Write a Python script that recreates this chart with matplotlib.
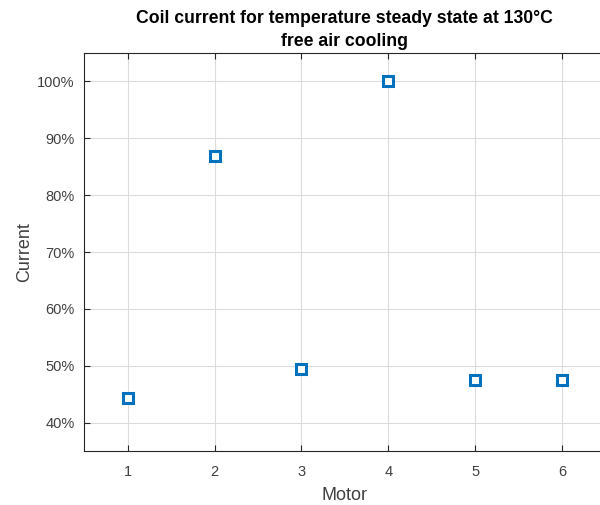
import matplotlib
matplotlib.use('Agg')
import matplotlib.pyplot as plt
from matplotlib.ticker import FuncFormatter

motors = [1, 2, 3, 4, 5, 6]
current = [44.4, 86.8, 49.5, 100.0, 47.4, 47.4]
yticks = [40, 50, 60, 70, 80, 90, 100]

plt.rcParams['font.family'] = ['Liberation Sans', 'DejaVu Sans']

fig = plt.figure(figsize=(6.0, 5.05), dpi=100)
ax = fig.add_axes([84.3 / 600, 54 / 505, 521.2 / 600, 398 / 505])

ax.plot(motors, current, linestyle='none', marker='s', markersize=7,
        markerfacecolor='white', markeredgecolor='#0072BD', markeredgewidth=2.2,
        zorder=3)

ax.set_xlim(0.5, 6.5)
ax.set_ylim(35, 105)
ax.set_xticks(motors)
ax.set_yticks(yticks)
ax.yaxis.set_major_formatter(FuncFormatter(lambda v, p: '%d%%' % v))

ax.grid(True, color='#dcdcdc', linewidth=0.8)
ax.set_axisbelow(True)
ax.tick_params(direction='in', length=4, width=0.8, colors='#262626',
               labelcolor='#404040', labelsize=10.5, top=True, right=True)
ax.tick_params(axis='x', pad=10)
ax.tick_params(axis='y', pad=7)
for s in ax.spines.values():
    s.set_color('#262626')
    s.set_linewidth(0.8)

ax.set_xlabel('Motor', fontsize=13, color='#404040', labelpad=6)
ax.set_ylabel('Current', fontsize=13, color='#404040', labelpad=3)
ax.set_title('Coil current for temperature steady state at 130°C\nfree air cooling',
             fontsize=12.7, fontweight='bold', color='black', pad=5, linespacing=1.45)

fig.savefig('out.png', dpi=100)
